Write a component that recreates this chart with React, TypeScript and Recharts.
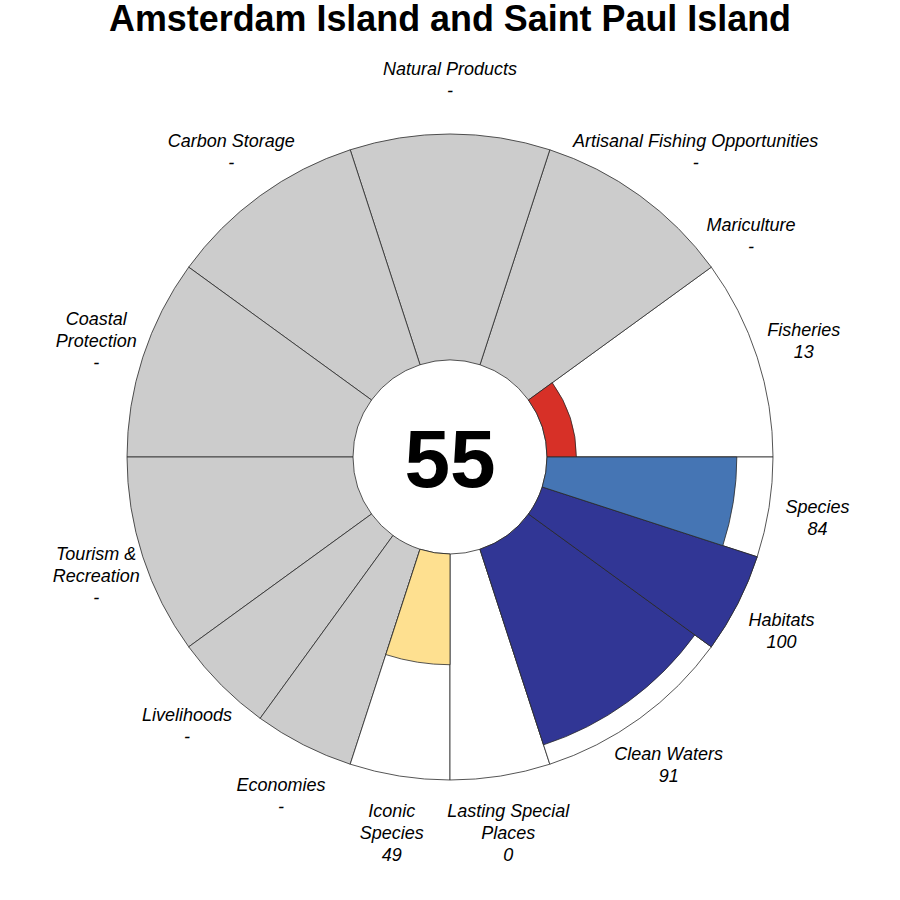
import React from 'react'
import { PieChart, Pie, Cell } from 'recharts'

const title = 'Amsterdam Island and Saint Paul Island'
const overallScore = 55

const goals = [
  'Fisheries', 'Mariculture', 'Artisanal Fishing Opportunities', 'Natural Products',
  'Carbon Storage', 'Coastal Protection', 'Tourism & Recreation', 'Livelihoods',
  'Economies', 'Iconic Species', 'Lasting Special Places', 'Clean Waters', 'Habitats', 'Species',
]

const labelText = [
  ['Fisheries'], ['Mariculture'], ['Artisanal Fishing Opportunities'], ['Natural Products'],
  ['Carbon Storage'], ['Coastal', 'Protection'], ['Tourism &', 'Recreation'], ['Livelihoods'],
  ['Economies'], ['Iconic', 'Species'], ['Lasting Special', 'Places'], ['Clean Waters'], ['Habitats'], ['Species'],
]

const weights = [1, 0, 1, 1, 1, 1, 1, 0.5, 0.5, 0.5, 0.5, 1, 0.5, 0.5]
const scores: (number | null)[] = [13, null, null, null, null, null, null, null, null, 49, 0, 91, 100, 84]
const petalColors = [
  '#D73027', '', '', '', '', '', '', '', '', '#FEE090', '#FFFFFF', '#313695', '#313695', '#4575B4',
]

const INNER = 97
const OUTER = 323
const LABEL_RX = 372
const LABEL_RY = 379
const CX = 450
const CY = 457
const LINE = '#2a2a2a'
const FONT = '"Liberation Sans", Arial, Helvetica, sans-serif'

const rows = goals.map((name, i) => ({
  name,
  weight: weights[i],
  score: scores[i],
  lines: labelText[i],
}))

const scoreRadius = (s: number) => INNER + ((OUTER - INNER) * s) / 100

function PetalLabel(props: any) {
  const { cx, cy, midAngle, index } = props
  const row = rows[index]
  const a = (midAngle * Math.PI) / 180
  let x = cx + LABEL_RX * Math.cos(a)
  const y = cy - LABEL_RY * Math.sin(a) + 1.5
  // long one-line label gets pushed out a bit so it clears the petals
  if (row.name.length > 25) x += 27
  const all = [...row.lines, row.score == null ? '-' : String(row.score)]
  const top = y - ((all.length - 1) * 22) / 2
  return (
    <text
      x={x}
      y={top}
      textAnchor="middle"
      dominantBaseline="central"
      fontFamily={FONT}
      fontStyle="italic"
      fontSize={18}
      fill="#000"
    >
      {all.map((t, k) => (
        <tspan key={k} x={x} y={top + k * 22} dominantBaseline="central">{t}</tspan>
      ))}
    </text>
  )
}

export default function App() {
  return (
    <div style={{ position: 'absolute', left: 0, top: 0, width: 900, height: 900, background: '#fff' }}>
      <PieChart width={900} height={900} margin={{ top: 0, right: 0, bottom: 0, left: 0 }}>
        {/* background petals: grey when no score */}
        <Pie
          data={rows}
          dataKey="weight"
          nameKey="name"
          cx={CX}
          cy={CY}
          innerRadius={INNER}
          outerRadius={OUTER}
          startAngle={0}
          endAngle={360}
          isAnimationActive={false}
          label={PetalLabel}
          labelLine={false}
        >
          {rows.map((r, i) => (
            <Cell key={i} fill={r.score == null ? '#CCCCCC' : '#FFFFFF'} stroke={LINE} strokeWidth={0.8} />
          ))}
        </Pie>

        {/* score petals */}
        {rows.map((r, i) =>
          r.score != null && r.score > 0 ? (
            <Pie
              key={r.name}
              data={rows}
              dataKey="weight"
              nameKey="name"
              cx={CX}
              cy={CY}
              innerRadius={INNER}
              outerRadius={scoreRadius(r.score)}
              startAngle={0}
              endAngle={360}
              isAnimationActive={false}
            >
              {rows.map((_, j) => (
                <Cell
                  key={j}
                  fill={j === i ? petalColors[i] : 'none'}
                  stroke={j === i ? LINE : 'none'}
                  strokeWidth={0.8}
                />
              ))}
            </Pie>
          ) : null
        )}

        <text
          x={450}
          y={31}
          textAnchor="middle"
          fontFamily={FONT}
          fontWeight="bold"
          fontSize={37}
          textLength={682}
          lengthAdjust="spacingAndGlyphs"
          fill="#000"
        >
          {title}
        </text>
        <text x={CX} y={487} textAnchor="middle" fontFamily={FONT} fontWeight="bold" fontSize={82} fill="#000">
          {overallScore}
        </text>
      </PieChart>
    </div>
  )
}
